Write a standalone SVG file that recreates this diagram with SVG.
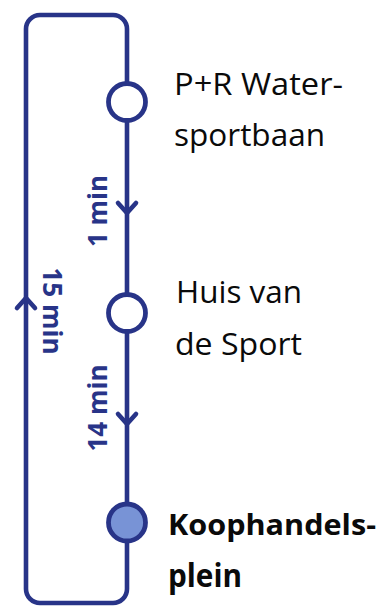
<svg xmlns="http://www.w3.org/2000/svg" width="383" height="608" viewBox="0 0 383 608">
  <style>
    .line { fill: none; stroke: #283488; stroke-width: 4.6; stroke-linecap: round; stroke-linejoin: round; }
    .stop { stroke: #283488; stroke-width: 4.8; fill: #ffffff; }
    .stop.main { fill: #7893D6; }
    .name { font-family: "Open Sans", "Liberation Sans", sans-serif; font-size: 31px; fill: #0a0a0a; }
    .name.bold { font-weight: bold; font-size: 32px; }
    .name.bold.long { font-size: 29px; }
    .time { font-family: "Open Sans", "Liberation Sans", sans-serif; font-size: 27px; font-weight: bold; fill: #283488; text-anchor: middle; }
  </style>
  <rect width="383" height="608" fill="#ffffff"/>
  <g id="connectors">
    <rect class="line" x="26" y="15" width="101" height="588" rx="14" ry="14"/>
    <polyline class="line" points="118,203 127,213 136,203"/>
    <polyline class="line" points="118,414 127,424 136,414"/>
    <polyline class="line" points="17,308 26,298 35,308"/>
    <text class="time" x="107" y="0" transform="translate(0,211) rotate(-90,107,0)" textLength="72" lengthAdjust="spacingAndGlyphs">1 min</text>
    <text class="time" x="107" y="0" transform="translate(0,408) rotate(-90,107,0)" textLength="87" lengthAdjust="spacingAndGlyphs">14 min</text>
    <text class="time" x="43" y="0" transform="translate(0,311) rotate(90,43,0)" textLength="87" lengthAdjust="spacingAndGlyphs">15 min</text>
  </g>
  <g id="node-pr-watersportbaan">
    <circle class="stop" cx="127" cy="102" r="18.5"/>
    <text class="name" x="174" y="95" textLength="169" lengthAdjust="spacingAndGlyphs">P+R Water-</text>
    <text class="name" x="174" y="146" textLength="151" lengthAdjust="spacingAndGlyphs">sportbaan</text>
  </g>
  <g id="node-huis-van-de-sport">
    <circle class="stop" cx="127" cy="313" r="18.5"/>
    <text class="name" x="176" y="303" textLength="126" lengthAdjust="spacingAndGlyphs">Huis van</text>
    <text class="name" x="175" y="355" textLength="127" lengthAdjust="spacingAndGlyphs">de Sport</text>
  </g>
  <g id="node-koophandelsplein">
    <circle class="stop main" cx="127" cy="522.5" r="18.5"/>
    <text class="name bold long" x="168" y="535" textLength="208" lengthAdjust="spacingAndGlyphs">Koophandels-</text>
    <text class="name bold" x="168" y="587" textLength="74" lengthAdjust="spacingAndGlyphs">plein</text>
  </g>
</svg>
